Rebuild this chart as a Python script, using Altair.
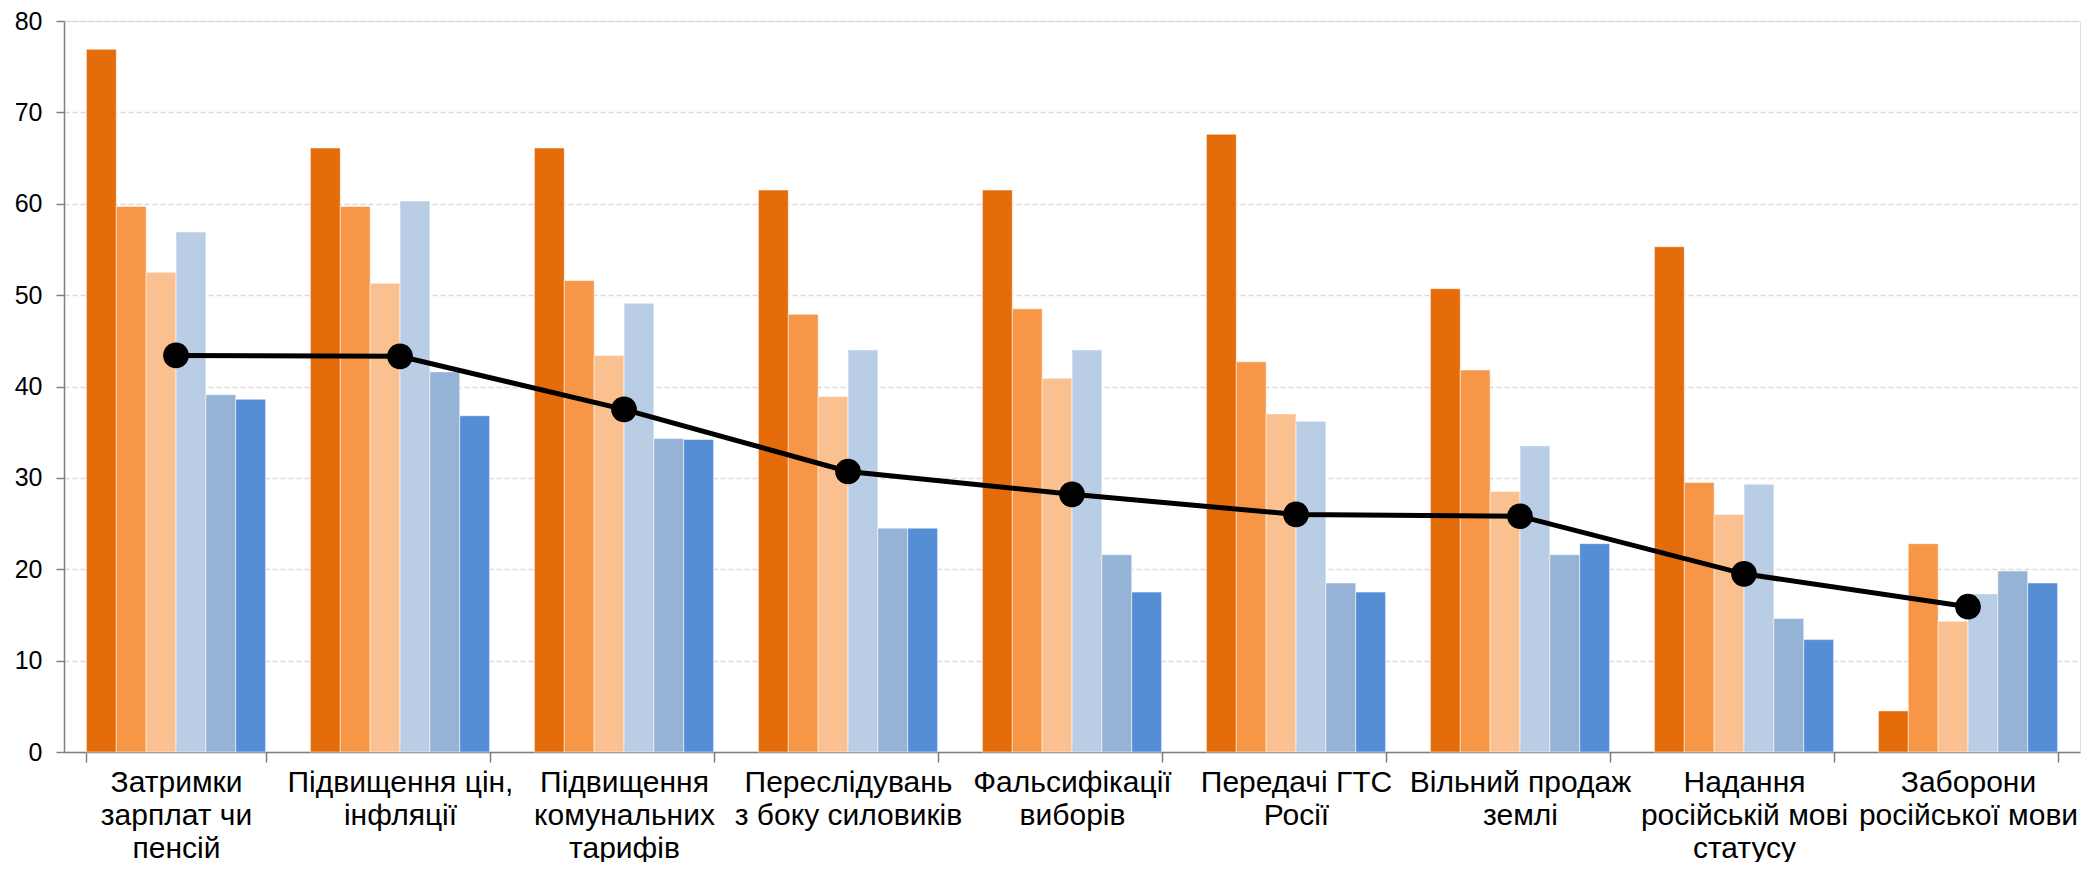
import altair as alt
import pandas as pd

categories = [
    "Затримки\nзарплат чи\nпенсій",
    "Підвищення цін,\nінфляції",
    "Підвищення\nкомунальних\nтарифів",
    "Переслідувань\nз боку силовиків",
    "Фальсифікації\nвиборів",
    "Передачі ГТС\nРосії",
    "Вільний продаж\nземлі",
    "Надання\nросійській мові\nстатусу",
    "Заборони\nросійської мови",
]

series_names = ["Серія 1", "Серія 2", "Серія 3", "Серія 4", "Серія 5", "Серія 6"]
series_colors = ["#E46C0A", "#F79646", "#FAC090", "#B9CDE5", "#95B3D7", "#558ED5"]

s1 = [76.9, 66.1, 66.1, 61.5, 61.5, 67.6, 50.7, 55.3, 4.5]
s2 = [59.7, 59.7, 51.6, 47.9, 48.5, 42.7, 41.8, 29.5, 22.8]
s3 = [52.5, 51.3, 43.4, 38.9, 40.9, 37.0, 28.5, 26.0, 14.3]
s4 = [56.9, 60.3, 49.1, 44.0, 44.0, 36.2, 33.5, 29.3, 17.3]
s5 = [39.1, 41.6, 34.3, 24.5, 21.6, 18.5, 21.6, 14.6, 19.8]
s6 = [38.6, 36.8, 34.2, 24.5, 17.5, 17.5, 22.8, 12.3, 18.5]
average = [43.4, 43.3, 37.5, 30.7, 28.2, 26.0, 25.8, 19.5, 15.9]

rows = []
for name, vals in zip(series_names, [s1, s2, s3, s4, s5, s6]):
    for c, v in zip(categories, vals):
        rows.append({"cat": c, "series": name, "value": v})
bars_df = pd.DataFrame(rows)
line_df = pd.DataFrame({"cat": categories, "value": average})

FONT = "Liberation Sans"

x_enc = alt.X(
    "cat:N",
    sort=categories,
    scale=alt.Scale(paddingInner=0.2, paddingOuter=0.1),
    axis=alt.Axis(
        title=None,
        labelAngle=0,
        labelExpr="split(datum.label, '\\n')",
        labelFont=FONT,
        labelFontSize=30,
        labelColor="#000000",
        labelLineHeight=33,
        labelPadding=5,
        labelLimit=400,
        labelOverlap=False,
        domainColor="#808080",
        domainWidth=1.5,
        tickColor="#808080",
        tickWidth=1.5,
        tickSize=10,
        tickBand="extent",
        grid=False,
    ),
)

y_enc = alt.Y(
    "value:Q",
    scale=alt.Scale(domain=[0, 80], nice=False),
    axis=alt.Axis(
        title=None,
        values=list(range(0, 81, 10)),
        labelFont=FONT,
        labelFontSize=25,
        labelColor="#000000",
        labelPadding=14,
        domainColor="#808080",
        domainWidth=1.5,
        tickColor="#808080",
        tickWidth=1.5,
        tickSize=8,
        grid=True,
        gridColor="#D9D9D9",
        gridDash=[5, 3],
        gridWidth=1.5,
    ),
)

bars = alt.Chart(bars_df).mark_bar(stroke="white", strokeWidth=1, strokeOpacity=0.5).encode(
    x=x_enc,
    xOffset=alt.XOffset("series:N", sort=series_names,
                        scale=alt.Scale(paddingInner=0, paddingOuter=0)),
    y=y_enc,
    color=alt.Color("series:N", scale=alt.Scale(domain=series_names, range=series_colors),
                    legend=None),
)

line = alt.Chart(line_df).mark_line(color="#000000", strokeWidth=5).encode(
    x=alt.X("cat:N", sort=categories),
    y=alt.Y("value:Q"),
)

points = alt.Chart(line_df).mark_circle(color="#000000", opacity=1, size=660).encode(
    x=alt.X("cat:N", sort=categories),
    y=alt.Y("value:Q"),
)

chart = alt.layer(bars, line, points).properties(
    width=2016,
    height=731,
    autosize=alt.AutoSizeParams(type="none"),
    padding={"left": 56, "top": 13, "right": 5, "bottom": 110},
).configure_view(stroke=None).configure(background="white")

chart.save("out.html", embed_options={"renderer": "svg", "actions": False})
